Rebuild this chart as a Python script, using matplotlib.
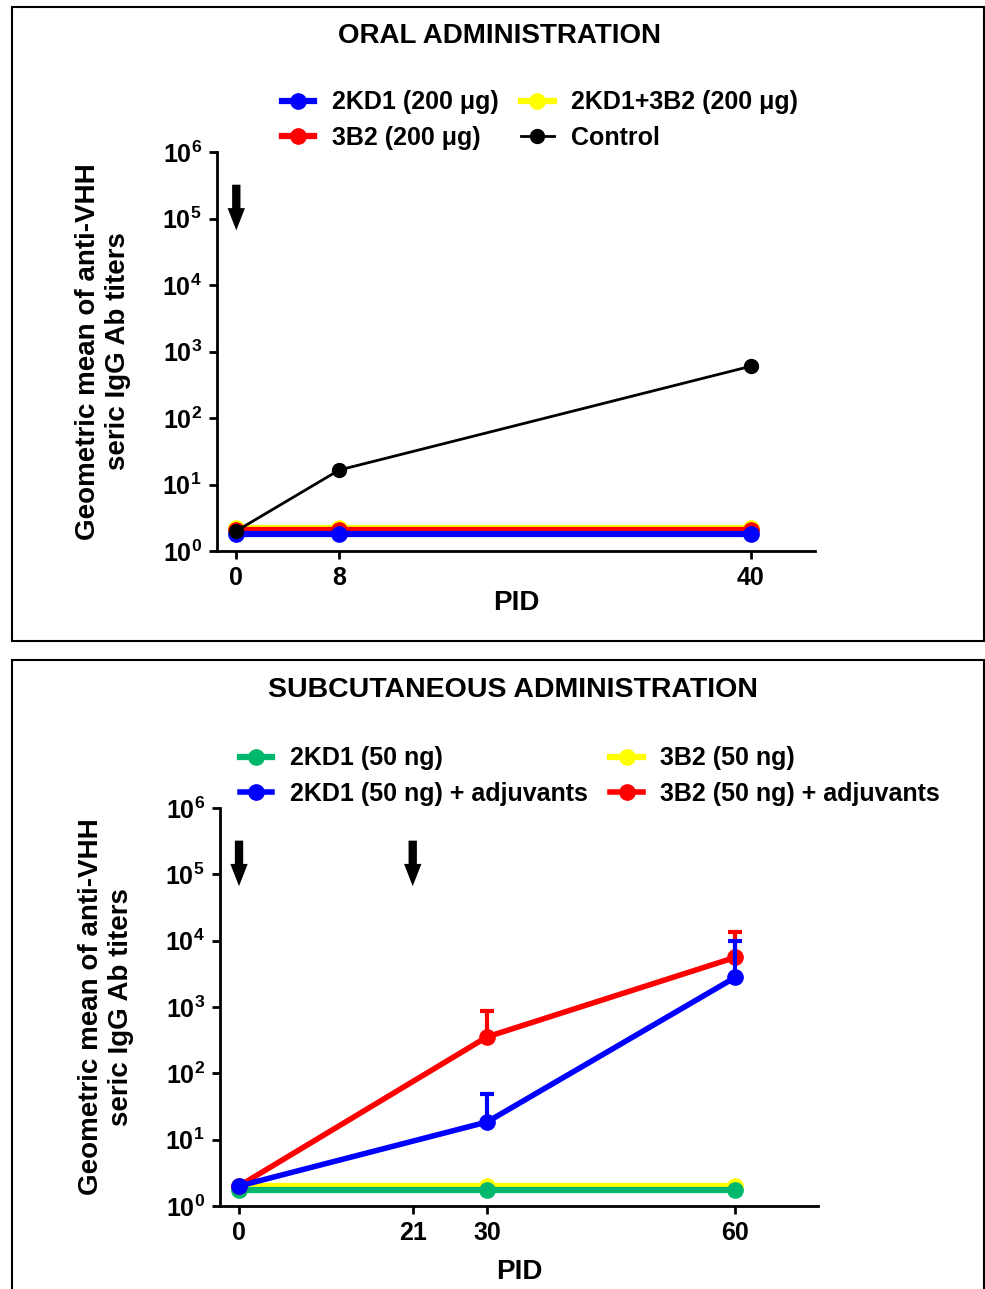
import matplotlib
matplotlib.use("Agg")
import matplotlib.pyplot as plt
from matplotlib.patches import Rectangle

plt.rcParams['font.family'] = ['Liberation Sans', 'DejaVu Sans']
plt.rcParams['font.weight'] = 'bold'
plt.rcParams['mathtext.fontset'] = 'custom'
plt.rcParams['mathtext.rm'] = 'Liberation Sans:bold'
plt.rcParams['mathtext.bf'] = 'Liberation Sans:bold'

# --- DATA: oral administration ---
oral_pid = [0, 8, 40]
oral_2kd1 = [1.8, 1.8, 1.8]
oral_3b2 = [2.05, 2.05, 2.05]
oral_mix = [2.25, 2.25, 2.25]
oral_control = [2.0, 16.5, 600]
oral_labels = ['2KD1 (200 \u03bcg)', '3B2 (200 \u03bcg)', '2KD1+3B2 (200 \u03bcg)', 'Control']
oral_arrows = [0]

# --- DATA: subcutaneous administration ---
sc_pid = [0, 30, 60]
sc_2kd1 = [1.75, 1.75, 1.75]
sc_3b2 = [2.0, 2.0, 2.0]
sc_2kd1_adj = [2.0, 18.5, 2800]
sc_2kd1_adj_err = [0, 31, 7200]
sc_3b2_adj = [2.0, 355, 5600]
sc_3b2_adj_err = [0, 515, 7900]
sc_labels = ['2KD1 (50 ng)', '2KD1 (50 ng) + adjuvants', '3B2 (50 ng)', '3B2 (50 ng) + adjuvants']
sc_arrows = [0, 21]

exponents = [0, 1, 2, 3, 4, 5, 6]

BLUE = '#0000ff'
RED = '#ff0000'
YELLOW = '#ffff00'
GREEN = '#00b86b'

fig = plt.figure(figsize=(9.85, 12.89), dpi=100)
W, H = 985, 1289


def fbox(x0, y0, x1, y1):
    return [x0 / W, 1 - y1 / H, (x1 - x0) / W, (y1 - y0) / H]


def style_axes(ax, xticks, xlim, xpad):
    ax.set_yscale('log')
    ax.set_ylim(1, 1e6)
    ax.set_xlim(*xlim)
    ax.set_yticks([10 ** e for e in exponents])
    ax.set_yticklabels([r'$10^{%d}$' % e for e in exponents])
    ax.minorticks_off()
    ax.set_xticks(xticks)
    ax.set_xticklabels([str(t) for t in xticks])
    for s in ['top', 'right']:
        ax.spines[s].set_visible(False)
    for s in ['left', 'bottom']:
        ax.spines[s].set_linewidth(2)
    ax.tick_params(width=2, length=6, labelsize=18, pad=5)
    ax.set_xlabel('PID', fontsize=20, fontweight='bold', labelpad=xpad)
    ax.set_ylabel('Geometric mean of anti-VHH\nseric IgG Ab titers', fontsize=20,
                  fontweight='bold', labelpad=22, linespacing=1.2)


def arrows(ax, xs):
    for x in xs:
        ax.annotate('', xy=(x, 10 ** 4.78), xytext=(x, 10 ** 5.55),
                    arrowprops=dict(arrowstyle='simple,head_width=1.25,head_length=1.6,tail_width=0.6',
                                    color='black', lw=0), annotation_clip=False)


leg_kw = dict(ncol=2, loc='center', frameon=False, fontsize=18, handlelength=1.3,
              columnspacing=0.9, handletextpad=0.7, labelspacing=0.45)

# panel frames
fig.add_artist(Rectangle((12 / W, 1 - 641 / H), 972 / W, 634 / H, transform=fig.transFigure,
                         fill=False, lw=1.5, ec='black'))
fig.add_artist(Rectangle((12 / W, 1 - 1300 / H), 972 / W, 640 / H, transform=fig.transFigure,
                         fill=False, lw=1.5, ec='black', clip_on=False))

# ---- top: oral ----
ax1 = fig.add_axes(fbox(217, 152, 815, 551))
h1 = ax1.plot(oral_pid, oral_2kd1, '-o', color=BLUE, lw=4.5, ms=11, zorder=5, clip_on=False)[0]
h2 = ax1.plot(oral_pid, oral_3b2, '-o', color=RED, lw=4.5, ms=11, zorder=4, clip_on=False)[0]
h3 = ax1.plot(oral_pid, oral_mix, '-o', color=YELLOW, lw=4.5, ms=11, zorder=3, clip_on=False)[0]
h4 = ax1.plot(oral_pid, oral_control, '-o', color='black', lw=2, ms=10, zorder=6, clip_on=False)[0]
style_axes(ax1, oral_pid, (-1.5, 45), 0)
arrows(ax1, oral_arrows)
fig.text(500 / W, 1 - 36 / H, 'ORAL ADMINISTRATION', ha='center', va='center',
         fontsize=20, fontweight='bold')
fig.legend([h1, h2, h3, h4], oral_labels, bbox_to_anchor=(540 / W, 1 - 120 / H), **leg_kw)

# ---- bottom: subcutaneous ----
ax2 = fig.add_axes(fbox(220, 808, 818, 1206))
g1 = ax2.plot(sc_pid, sc_2kd1, '-o', color=GREEN, lw=4.5, ms=11, zorder=5, clip_on=False)[0]
g3 = ax2.plot(sc_pid, sc_3b2, '-o', color=YELLOW, lw=4.5, ms=11, zorder=4, clip_on=False)[0]
ax2.errorbar(sc_pid, sc_2kd1_adj, yerr=[[0] * len(sc_pid), sc_2kd1_adj_err], fmt='none',
             ecolor=BLUE, elinewidth=3, capsize=5, capthick=3, zorder=6, clip_on=False)
g2 = ax2.plot(sc_pid, sc_2kd1_adj, '-o', color=BLUE, lw=4, ms=11, zorder=6, clip_on=False)[0]
ax2.errorbar(sc_pid, sc_3b2_adj, yerr=[[0] * len(sc_pid), sc_3b2_adj_err], fmt='none',
             ecolor=RED, elinewidth=3, capsize=5, capthick=3, zorder=5.5, clip_on=False)
g4 = ax2.plot(sc_pid, sc_3b2_adj, '-o', color=RED, lw=4, ms=11, zorder=5.5, clip_on=False)[0]
style_axes(ax2, [0, 21, 30, 60], (-2.3, 70), 10)
arrows(ax2, sc_arrows)
fig.text(513 / W, 1 - 690 / H, 'SUBCUTANEOUS ADMINISTRATION', ha='center', va='center',
         fontsize=20.5, fontweight='bold')
fig.legend([g1, g2, g3, g4], sc_labels, bbox_to_anchor=(590 / W, 1 - 776 / H), **leg_kw)

fig.savefig('out.png', dpi=100)
